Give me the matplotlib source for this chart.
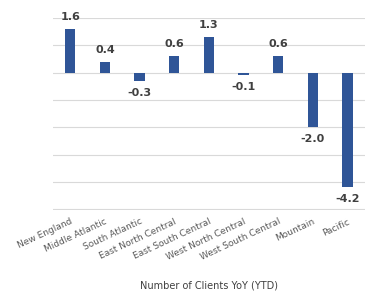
import matplotlib.pyplot as plt
import numpy as np

# datos
regions = ["New England", "Middle Atlantic", "South Atlantic", "East North Central",
           "East South Central", "West North Central", "West South Central",
           "Mountain", "Pacific"]
yoy = [1.6, 0.4, -0.3, 0.6, 1.3, -0.1, 0.6, -2.0, -4.2]
y_ticks = [2, 1, 0, -1, -2, -3, -4, -5]

fig = plt.figure(figsize=(3.7, 2.93), dpi=100)
ax = fig.add_axes([0.143, 0.283, 0.843, 0.656])

x = np.arange(len(regions))
ax.bar(x, yoy, width=0.3, color="#2F5597", zorder=3)

for xi, v in zip(x, yoy):
    off = 0.25 if v >= 0 else -0.25
    ax.text(xi, v + off, f"{v:.1f}", ha="center", va="bottom" if v >= 0 else "top",
            fontsize=8, fontweight="bold", color="#404040")

ax.set_ylim(-5.03, 2)
ax.set_xlim(-0.5, len(regions) - 0.5)
ax.set_yticks(y_ticks)
ax.set_yticklabels([])
ax.yaxis.grid(True, color="#D9D9D9", linewidth=0.8, zorder=0)
ax.tick_params(axis="both", length=0)
for s in ax.spines.values():
    s.set_visible(False)

ax.set_xticks(x)
ax.set_xticklabels(regions, rotation=25, ha="right", rotation_mode="anchor",
                   fontsize=6.5, color="#595959")
ax.tick_params(axis="x", pad=5)
ax.set_xlabel("Number of Clients YoY (YTD)", fontsize=7, color="#404040", labelpad=13)

fig.savefig("out.png", dpi=100)
